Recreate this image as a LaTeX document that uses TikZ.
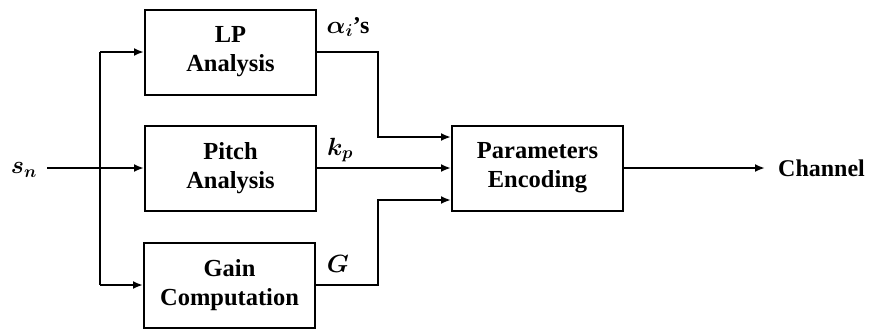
\documentclass[tikz,border=0pt]{standalone}
\usepackage{fontspec}
\setmainfont{Liberation Serif}
\usepackage{bm}
\usetikzlibrary{arrows.meta}
\begin{document}
\begin{tikzpicture}[x=1pt,y=-1pt,
  blk/.style={draw, line width=2pt, minimum width=171pt, minimum height=85pt,
    align=center, inner sep=0pt, font=\fontsize{24.5}{29}\selectfont\bfseries},
  wire/.style={line width=2pt},
  arr/.style={wire, -{Latex[length=10pt,width=8pt]}},
  lbl/.style={inner sep=0pt, font=\fontsize{24}{28}\selectfont\boldmath}]
\useasboundingbox (0,0) rectangle (877,330);
% blocks
\node[blk] (lp)    at (230.5,52)  {LP\\Analysis};
\node[blk] (pitch) at (230.5,168) {Pitch\\Analysis};
\node[blk] (gain)  at (229.5,285) {Gain\\Computation};
\node[blk] (pe)    at (537.5,168) {Parameters\\Encoding};
% input
\node[lbl] (sn) at (24,170) {$s_n$};
\coordinate (in) at (47,168);
\coordinate (bt) at (100,52);
\coordinate (bm) at (100,168);
\coordinate (bb) at (100,285);
\draw[wire] (in) -- (bm);
\draw[wire] (bt) -- (bb);
\draw[arr] (bt) -- (lp.west);
\draw[arr] (bm) -- (pitch.west);
\draw[arr] (bb) -- (gain.west);
% outputs to encoder
\coordinate (j1) at (378,137);
\coordinate (j3) at (378,200);
\draw[arr] (lp.east) -| (j1) -- (j1 -| pe.west);
\draw[arr] (pitch.east) -- (pe.west);
\draw[arr] (gain.east) -| (j3) -- (j3 -| pe.west);
% labels
\node[lbl] (la) at (348,27) {$\alpha_i$\textbf{'s}};
\node[lbl] (lk) at (340,150) {$k_p$};
\node[lbl] (lg) at (338,264) {$G$};
% channel
\node[anchor=west, inner xsep=13pt, inner ysep=0pt, font=\fontsize{24}{28}\selectfont\bfseries] (ch) at (765,168) {Channel};
\draw[arr] (pe.east) -- (ch.west);
\end{tikzpicture}
\end{document}
